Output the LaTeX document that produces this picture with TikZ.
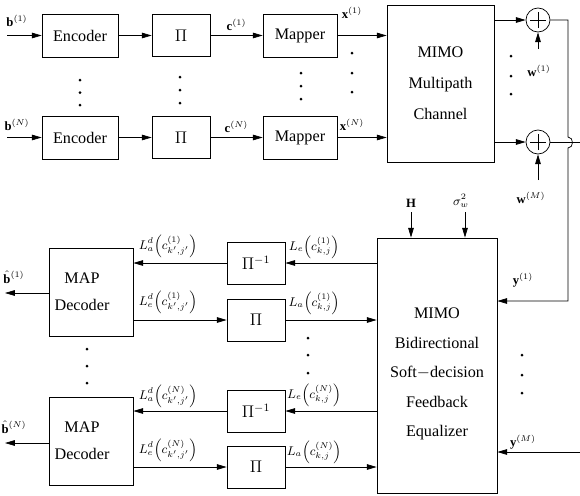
\documentclass[tikz,border=0pt]{standalone}
\usepackage{amsmath}
\usepackage{fontspec}
\setmainfont{Liberation Serif}
\usetikzlibrary{arrows.meta}

\begin{document}
\begin{tikzpicture}[x=0.025cm, y=-0.025cm, line width=0.5pt,
  >={Triangle[length=7pt,width=4pt]},
  txt/.style={font=\fontsize{11.5}{14}\selectfont},
  box/.style={draw, txt, minimum width=1.9cm, minimum height=1.075cm},
  pibox/.style={draw, txt, minimum width=1.45cm, minimum height=1.05cm},
  mapbox/.style={draw, minimum width=2.1cm, minimum height=2.2cm},
  adder/.style={circle, draw, minimum size=0.6cm, inner sep=0pt,
    path picture={
      \draw ([xshift=-0.2cm]path picture bounding box.center) -- ([xshift=0.2cm]path picture bounding box.center);
      \draw ([yshift=-0.2cm]path picture bounding box.center) -- ([yshift=0.2cm]path picture bounding box.center);}},
  lbl/.style={font=\small, inner sep=1pt}]
  \useasboundingbox (0,0) rectangle (580,495);
  \clip (0,0) rectangle (580,495);

  % transmitter
  \node[box] (enc1) at (80,35.5) {Encoder};
  \node[box] (encN) at (80,137.5) {Encoder};
  \node[pibox] (pi1) at (181,35.5) {$\Pi$};
  \node[pibox] (piN) at (181,137.5) {$\Pi$};
  \node[box, minimum width=1.85cm] (map1) at (300,35.5) {Mapper};
  \node[box, minimum width=1.85cm] (mapN) at (300,137.5) {Mapper};
  \node[draw, txt, align=center, minimum width=2.675cm, minimum height=3.925cm] (chan) at (440.5,83.5)
    {MIMO\\[8pt]Multipath\\[8pt]Channel};
  \node[adder] (add1) at (538,20) {};
  \node[adder] (addM) at (538,142) {};

  \coordinate (in1) at (7,35.5);
  \coordinate (inN) at (7,137.5);
  \draw[->] (in1) -- (enc1);
  \draw[->] (inN) -- (encN);
  \node[lbl] (b1) at (17,21) {$\mathbf{b}^{(1)}$};
  \node[lbl] (bN) at (17,125) {$\mathbf{b}^{(N)}$};
  \draw[->] (enc1) -- (pi1);
  \draw[->] (encN) -- (piN);
  \draw[->] (pi1) -- (map1) node[lbl, midway, above=2pt] (c1) {$\mathbf{c}^{(1)}$};
  \draw[->] (piN) -- (mapN) node[lbl, midway, above=2pt] (cN) {$\mathbf{c}^{(N)}$};
  \draw[->] (map1) -- (map1 -| chan.west);
  \draw[->] (mapN) -- (mapN -| chan.west);
  \node[lbl] (x1) at (352,13) {$\mathbf{x}^{(1)}$};
  \node[lbl] (xN) at (352,125) {$\mathbf{x}^{(N)}$};
  \draw[->] (add1 -| chan.east) -- (add1);
  \draw[->] (addM -| chan.east) -- (addM);
  \coordinate (w1) at (538,49);
  \coordinate (wM) at (538,180);
  \draw[->] (w1) -- (add1);
  \draw[->] (wM) -- (addM);
  \node[lbl] (wl1) at (539,71) {$\mathbf{w}^{(1)}$};
  \node[lbl] (wlM) at (531,198) {$\mathbf{w}^{(M)}$};

  % dots
  \foreach \y in {80,92.5,105} \fill (80,\y) circle (1.5);
  \foreach \y in {77,90,103} \fill (180,\y) circle (1.5);
  \foreach \y in {73,86,99} \fill (301,\y) circle (1.5);
  \foreach \y in {53,73,92} \fill (352,\y) circle (1.5);
  \foreach \y in {56,76,94} \fill (511,\y) circle (1.5);

  % receiver
  \node[draw, minimum width=3cm, minimum height=6.375cm] (eq) at (437,365.5) {};
  \node[txt, align=center] (eqtxt) at (437,374) {MIMO\\[7pt]Bidirectional\\[7pt]Soft$-$decision\\[7pt]Feedback\\[7pt]Equalizer};
  \coordinate (hin) at (411,212);
  \coordinate (sin) at (465,212);
  \draw[->] (hin) -- (hin |- eq.north);
  \draw[->] (sin) -- (sin |- eq.north);
  \node[lbl] (hl) at (411,203) {$\mathbf{H}$};
  \node[lbl] (sl) at (461,201) {$\sigma_w^2$};

  \coordinate (y1) at (568,301);
  \coordinate (yM) at (590,452);
  \draw[->] (add1) -- (568,20) -- (568,137) .. controls (574,137) and (574,148) .. (568,148) -- (y1) -- (y1 -| eq.east);
  \draw[->] (addM) -- (590,142) -- (yM) -- (yM -| eq.east);
  \node[lbl] (yl1) at (523,280) {$\mathbf{y}^{(1)}$};
  \node[lbl] (ylM) at (523,442) {$\mathbf{y}^{(M)}$};
  \foreach \y in {355,375,393} \fill (522,\y) circle (1.5);

  \node[pibox] (ipi1) at (256,263) {$\Pi^{-1}$};
  \node[pibox] (dpi1) at (256,320) {$\Pi$};
  \node[pibox] (ipiN) at (256,411) {$\Pi^{-1}$};
  \node[pibox] (dpiN) at (256,467) {$\Pi$};
  \draw[->] (ipi1 -| eq.west) -- (ipi1);
  \draw[->] (dpi1) -- (dpi1 -| eq.west);
  \draw[->] (ipiN -| eq.west) -- (ipiN);
  \draw[->] (dpiN) -- (dpiN -| eq.west);
  \node[lbl] (le1) at (314,247) {$L_e\Big(c^{(1)}_{k,j}\Big)$};
  \node[lbl] (la1) at (314,303) {$L_a\Big(c^{(1)}_{k,j}\Big)$};
  \node[lbl] (leN) at (314,395) {$L_e\Big(c^{(N)}_{k,j}\Big)$};
  \node[lbl] (laN) at (314,452) {$L_a\Big(c^{(N)}_{k,j}\Big)$};
  \foreach \y in {338,355,373} \fill (308,\y) circle (1.5);

  \node[mapbox] (dec1) at (91,292) {};
  \node[mapbox] (decN) at (91,441) {};
  \node[txt, align=center] (dt1) at (82,291.5) {MAP\\[5pt]Decoder};
  \node[txt, align=center] (dtN) at (82,440.5) {MAP\\[5pt]Decoder};
  \draw[->] (ipi1) -- (ipi1 -| dec1.east);
  \draw[->] (dpi1 -| dec1.east) -- (dpi1);
  \draw[->] (ipiN) -- (ipiN -| decN.east);
  \draw[->] (dpiN -| decN.east) -- (dpiN);
  \node[lbl] (lad1) at (168,246) {$L_a^d\Big(c^{(1)}_{k',j'}\Big)$};
  \node[lbl] (led1) at (168,302) {$L_e^d\Big(c^{(1)}_{k',j'}\Big)$};
  \node[lbl] (ladN) at (168,396) {$L_a^d\Big(c^{(N)}_{k',j'}\Big)$};
  \node[lbl] (ledN) at (168,450) {$L_e^d\Big(c^{(N)}_{k',j'}\Big)$};
  \coordinate (out1) at (5,293);
  \coordinate (outN) at (5,443);
  \draw[->] (dec1.west |- out1) -- (out1);
  \draw[->] (decN.west |- outN) -- (outN);
  \node[lbl] (bh1) at (14,277) {$\hat{\mathbf{b}}^{(1)}$};
  \node[lbl] (bhN) at (14,427) {$\hat{\mathbf{b}}^{(N)}$};
  \foreach \y in {349,366,383} \fill (87,\y) circle (1.5);
\end{tikzpicture}
\end{document}
